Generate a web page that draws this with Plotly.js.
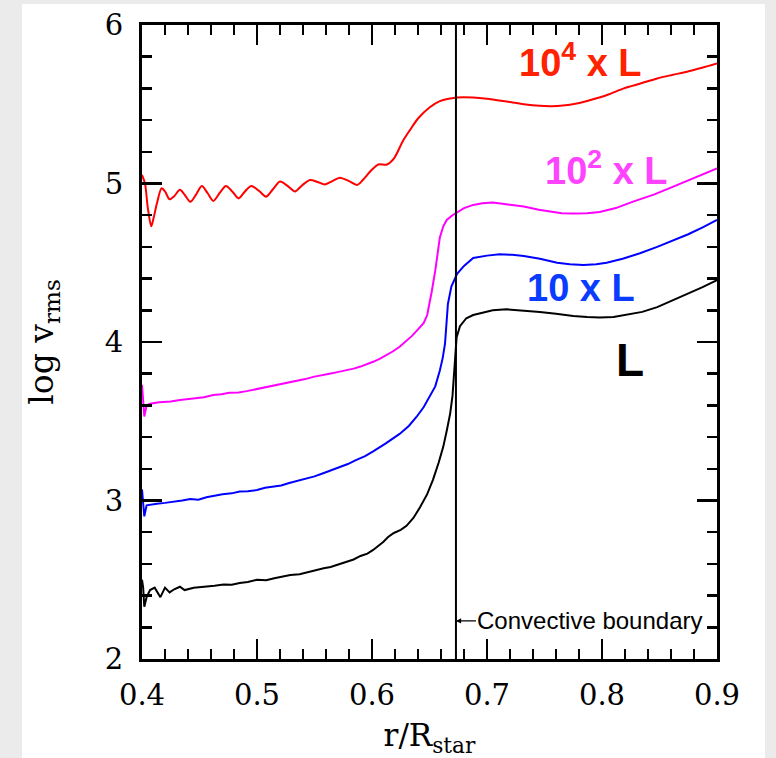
<!DOCTYPE html>
<html>
<head>
<meta charset="utf-8">
<script src="https://cdn.plot.ly/plotly-3.0.1.min.js"></script>
<style>
  html, body { margin:0; padding:0; background:#ebebeb; width:776px; height:758px; overflow:hidden; }
  #chart { position:absolute; left:22px; top:4px; width:743px; height:754px; background:#fff; }
</style>
</head>
<body>
<div id="chart"></div>
<script>
// ---- data ----
const xL = [0.400,0.401,0.402,0.404,0.407,0.411,0.416,0.420,0.424,0.428,0.433,0.437,0.445,0.455,0.463,0.471,0.478,0.485,0.492,0.500,0.508,0.515,0.522,0.529,0.537,0.545,0.552,0.558,0.564,0.570,0.578,0.584,0.590,0.596,0.601,0.606,0.610,0.614,0.619,0.625,0.630,0.636,0.642,0.648,0.653,0.658,0.662,0.665,0.668,0.670,0.671,0.672,0.6736,0.6765,0.682,0.688,0.694,0.705,0.717,0.730,0.746,0.760,0.775,0.787,0.798,0.810,0.821,0.835,0.848,0.861,0.874,0.887,0.900];
const yL = [2.50,2.45,2.33,2.39,2.435,2.45,2.39,2.45,2.42,2.44,2.456,2.435,2.45,2.455,2.462,2.47,2.468,2.48,2.486,2.50,2.497,2.51,2.52,2.53,2.535,2.55,2.562,2.572,2.58,2.595,2.614,2.628,2.65,2.665,2.688,2.715,2.74,2.77,2.795,2.815,2.84,2.89,2.96,3.04,3.13,3.24,3.34,3.44,3.55,3.66,3.76,3.88,4.03,4.10,4.15,4.17,4.18,4.20,4.206,4.20,4.19,4.178,4.164,4.158,4.155,4.158,4.17,4.19,4.22,4.26,4.30,4.345,4.39];

const x10 = [0.400,0.401,0.402,0.404,0.408,0.413,0.420,0.427,0.435,0.442,0.449,0.456,0.463,0.470,0.478,0.485,0.492,0.500,0.507,0.514,0.521,0.528,0.536,0.543,0.550,0.557,0.565,0.572,0.579,0.586,0.594,0.601,0.607,0.612,0.618,0.624,0.632,0.639,0.645,0.650,0.655,0.659,0.6615,0.6635,0.665,0.666,0.669,0.674,0.680,0.688,0.700,0.711,0.722,0.732,0.746,0.761,0.772,0.784,0.795,0.804,0.818,0.833,0.848,0.862,0.875,0.888,0.900];
const y10 = [3.07,3.00,2.90,2.97,2.975,2.98,2.985,2.99,3.00,3.01,3.005,3.02,3.03,3.04,3.045,3.056,3.058,3.066,3.08,3.087,3.095,3.11,3.125,3.14,3.152,3.17,3.19,3.21,3.23,3.255,3.28,3.31,3.335,3.36,3.39,3.42,3.47,3.53,3.59,3.655,3.72,3.82,3.90,3.99,4.12,4.24,4.35,4.43,4.48,4.53,4.545,4.553,4.55,4.543,4.525,4.50,4.49,4.486,4.49,4.50,4.525,4.56,4.60,4.64,4.68,4.725,4.77];

const x100 = [0.400,0.401,0.402,0.404,0.407,0.415,0.425,0.433,0.445,0.454,0.462,0.469,0.476,0.484,0.491,0.498,0.505,0.513,0.520,0.528,0.535,0.542,0.549,0.556,0.563,0.570,0.578,0.584,0.590,0.596,0.601,0.607,0.612,0.618,0.624,0.630,0.635,0.640,0.645,0.648,0.650,0.652,0.655,0.657,0.659,0.662,0.665,0.670,0.674,0.680,0.688,0.696,0.705,0.718,0.732,0.745,0.755,0.765,0.775,0.787,0.798,0.812,0.827,0.845,0.862,0.880,0.900];
const y100 = [3.73,3.65,3.53,3.60,3.61,3.62,3.625,3.634,3.645,3.652,3.666,3.67,3.68,3.682,3.69,3.70,3.71,3.72,3.73,3.742,3.755,3.766,3.78,3.788,3.80,3.81,3.822,3.832,3.845,3.86,3.875,3.895,3.915,3.94,3.97,4.005,4.04,4.08,4.12,4.17,4.24,4.32,4.45,4.56,4.66,4.73,4.77,4.80,4.82,4.845,4.865,4.875,4.88,4.87,4.855,4.835,4.822,4.812,4.81,4.812,4.82,4.845,4.886,4.93,4.98,5.035,5.095];

const x10k = [0.400,0.4026,0.405,0.408,0.410,0.413,0.417,0.420,0.424,0.428,0.433,0.437,0.442,0.447,0.452,0.457,0.462,0.4675,0.473,0.4785,0.484,0.4895,0.495,0.5015,0.508,0.514,0.520,0.5265,0.533,0.5395,0.546,0.5525,0.559,0.5655,0.572,0.580,0.587,0.592,0.599,0.6055,0.613,0.619,0.627,0.633,0.640,0.650,0.659,0.674,0.688,0.700,0.717,0.732,0.746,0.756,0.766,0.778,0.790,0.805,0.819,0.834,0.848,0.861,0.874,0.887,0.900];
const y10k = [5.054,5.00,4.85,4.73,4.78,4.875,4.97,4.95,4.90,4.92,4.96,4.93,4.885,4.93,4.984,4.94,4.89,4.94,4.984,4.95,4.906,4.95,4.984,4.955,4.917,4.965,5.012,4.985,4.95,4.99,5.022,5.01,4.994,5.015,5.037,5.015,4.991,5.022,5.08,5.12,5.12,5.157,5.27,5.337,5.41,5.48,5.52,5.543,5.543,5.535,5.517,5.50,5.49,5.488,5.492,5.505,5.527,5.56,5.60,5.632,5.663,5.685,5.705,5.73,5.757];

const boundaryR = 0.673;
const boundaryY = [2, 6];
const labelText = ['10<sup>4</sup> x L', '10<sup>2</sup> x L', '10 x L', 'L'];
const labelX = [0.781, 0.8035, 0.782, 0.824];
const labelY = [5.78, 5.098, 4.34, 3.886];
const xTicks = [0.4, 0.5, 0.6, 0.7, 0.8, 0.9];
const yTicks = [2, 3, 4, 5, 6];

const serif = 'DejaVu Serif, serif';
const sans = 'Liberation Sans, Arial, sans-serif';

const traces = [
  {x:x10k, y:y10k, mode:'lines', line:{color:'#ff0000', width:2, shape:'spline', smoothing:0.8}},
  {x:x100, y:y100, mode:'lines', line:{color:'#ff00ff', width:2}},
  {x:x10, y:y10, mode:'lines', line:{color:'#0000ff', width:2}},
  {x:xL, y:yL, mode:'lines', line:{color:'#000000', width:2}},
  {x:[boundaryR, boundaryR], y:boundaryY, mode:'lines', line:{color:'#000000', width:2}}
];

const labelColors = ['#ff2200', '#ff44ff', '#0a3cff', '#000000'];
const labelSizes = [38, 38, 38, 46];
const annotations = labelText.map((t,i)=>({
  x:labelX[i], y:labelY[i], xref:'x', yref:'y', text:t, showarrow:false,
  font:{family:sans, size:labelSizes[i], color:labelColors[i], weight:'bold'},
  xanchor:'center', yanchor:'middle'
}));
annotations.push({
  x:boundaryR, y:2.24, xref:'x', yref:'y', text:'Convective boundary',
  showarrow:true, ax:134, ay:0, arrowhead:2, arrowsize:0.8, arrowwidth:1.3,
  arrowcolor:'#000', standoff:0, font:{family:sans, size:24, color:'#000'}
});

const axisCommon = {
  showline:true, linecolor:'#000', linewidth:3, mirror:'ticks',
  ticks:'inside', ticklen:20, tickwidth:2.5, tickcolor:'#000',
  showgrid:false, zeroline:false,
  tickfont:{family:serif, size:29, color:'#000'}
};

const layout = {
  width:743, height:754,
  margin:{l:120, r:48, t:21, b:99},
  paper_bgcolor:'#ffffff', plot_bgcolor:'#ffffff',
  showlegend:false,
  xaxis:Object.assign({}, axisCommon, {
    range:[0.4, 0.9], tickvals:xTicks, ticktext:xTicks.map(v=>v.toFixed(1)),
    ticklabelstandoff:8,
    minor:{dtick:0.02, tick0:0.4, ticks:'inside', ticklen:10, tickwidth:2.5, tickcolor:'#000', showgrid:false},
    title:{text:'r/R<sub>star</sub>', font:{family:serif, size:31, color:'#000'}, standoff:14}
  }),
  yaxis:Object.assign({}, axisCommon, {
    range:[2, 6], tickvals:yTicks, ticktext:yTicks.map(String),
    ticklabelstandoff:10,
    minor:{dtick:0.2, tick0:2, ticks:'inside', ticklen:10, tickwidth:2.5, tickcolor:'#000', showgrid:false},
    title:{text:'log v<sub>rms</sub>', font:{family:serif, size:33, color:'#000'}, standoff:44}
  }),
  annotations:annotations
};

Plotly.newPlot('chart', traces, layout, {displayModeBar:false, staticPlot:true});
</script>
</body>
</html>
